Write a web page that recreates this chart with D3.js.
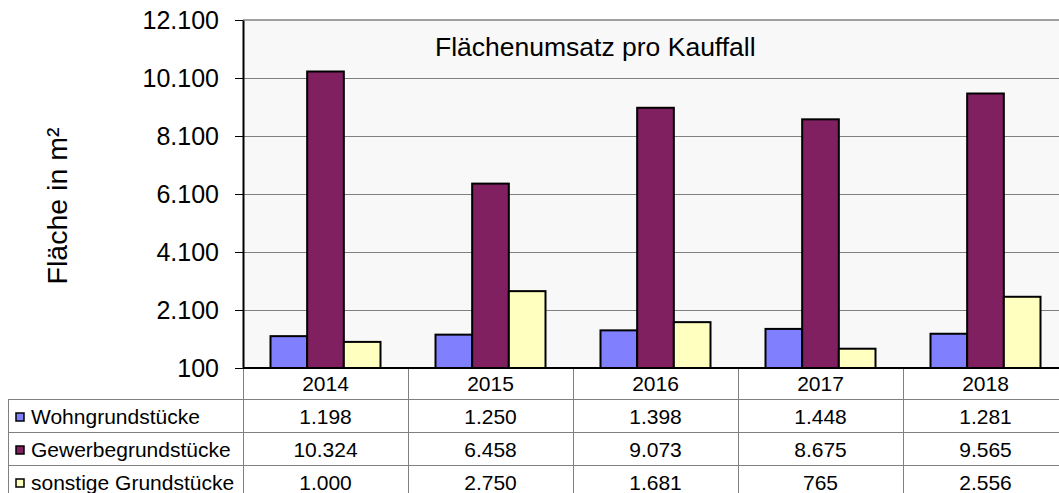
<!DOCTYPE html>
<html>
<head>
<meta charset="utf-8">
<script src="https://cdn.jsdelivr.net/npm/d3@7"></script>
<style>
    body { margin: 0; background: #fff; }
    svg { display: block; font-family: "Liberation Sans", Arial, sans-serif; }
    .grid line { stroke: #808080; stroke-width: 1; }
    .tbl line { stroke: #808080; stroke-width: 1; }
    .bar { stroke: #000; stroke-width: 2; }
</style>
</head>
<body>
<svg id="chart"></svg>
<script>
var years = ["2014", "2015", "2016", "2017", "2018"];
var seriesNames = ["Wohngrundstücke", "Gewerbegrundstücke", "sonstige Grundstücke"];
var wohn = [1198, 1250, 1398, 1448, 1281];
var gewerbe = [10324, 6458, 9073, 8675, 9565];
var sonstige = [1000, 2750, 1681, 765, 2556];
var yTicks = [100, 2100, 4100, 6100, 8100, 10100, 12100];
var colors = ["#8080ff", "#802060", "#ffffc0"];

var w = 1059,
    h = 493;

var margin = { top: 20, left: 243 },
    plotBottom = 368,
    rowH = 33;

var FMT = d3.formatLocale({ decimal: ",", thousands: ".", grouping: [3], currency: ["", "€"] }).format(",d");

var seriesValues = [wohn, gewerbe, sonstige];

var x = d3.scaleBand()
    .domain(years)
    .range([margin.left, margin.left + 165 * years.length]);

var x1 = d3.scaleBand()
    .domain([0, 1, 2])
    .range([27.5, 137.5]);

var y = d3.scaleLinear()
    .domain([100, 12100])
    .range([plotBottom, margin.top]);

var svg = d3.select("#chart")
    .attr("width", w)
    .attr("height", h);

// plot background
svg.append("rect")
    .attr("x", margin.left)
    .attr("y", margin.top)
    .attr("width", w - margin.left)
    .attr("height", plotBottom - margin.top)
    .attr("fill", "#f8f8f8");

// gridlines
svg.append("g")
    .attr("class", "grid")
    .selectAll("line")
    .data(yTicks.slice(1, -1))
    .enter()
    .append("line")
    .attr("x1", margin.left)
    .attr("x2", w)
    .attr("y1", function(d) { return y(d) + 0.5; })
    .attr("y2", function(d) { return y(d) + 0.5; });

svg.append("line")
    .attr("x1", margin.left)
    .attr("x2", w)
    .attr("y1", y(12100))
    .attr("y2", y(12100))
    .attr("stroke", "#a0a0a0")
    .attr("stroke-width", 2);

// y axis
var yAxis = svg.append("g")
    .attr("transform", "translate(" + margin.left + ",0)")
    .call(d3.axisLeft(y).tickValues(yTicks).tickFormat(FMT).tickSize(8).tickPadding(16).tickSizeOuter(0));

yAxis.select(".domain").attr("stroke", "#000").attr("stroke-width", 2);
yAxis.selectAll(".tick line").attr("stroke", "#000");
yAxis.selectAll(".tick text")
    .attr("font-size", 25)
    .attr("font-family", "Liberation Sans, Arial, sans-serif")
    .attr("fill", "#000");

svg.append("text")
    .attr("transform", "translate(67,206) rotate(-90)")
    .attr("text-anchor", "middle")
    .attr("font-size", 28.5)
    .text("Fläche in m²");

svg.append("text")
    .attr("x", 435)
    .attr("y", 56)
    .attr("font-size", 26.5)
    .text("Flächenumsatz pro Kauffall");

// bars
var groups = svg.selectAll(".year")
    .data(years)
    .enter()
    .append("g")
    .attr("class", "year")
    .attr("transform", function(d) { return "translate(" + x(d) + ",0)"; });

groups.selectAll("rect")
    .data(function(d, i) { return seriesValues.map(function(s, j) { return { s: j, v: s[i] }; }); })
    .enter()
    .append("rect")
    .attr("class", "bar")
    .attr("x", function(d) { return x1(d.s); })
    .attr("y", function(d) { return y(d.v); })
    .attr("width", x1.bandwidth())
    .attr("height", function(d) { return y(100) - y(d.v); })
    .attr("fill", function(d) { return colors[d.s]; });

// data table
var tbl = svg.append("g").attr("class", "tbl");

[1, 2, 3].forEach(function(r) {
    tbl.append("line")
        .attr("x1", 8).attr("x2", w)
        .attr("y1", plotBottom + r * rowH - 1.5).attr("y2", plotBottom + r * rowH - 1.5);
});

tbl.append("line")
    .attr("x1", 8.5).attr("x2", 8.5)
    .attr("y1", plotBottom + rowH - 1.5).attr("y2", h);

tbl.selectAll(".vline")
    .data(years)
    .enter()
    .append("line")
    .attr("class", "vline")
    .attr("x1", function(d) { return x(d) + 0.5; })
    .attr("x2", function(d) { return x(d) + 0.5; })
    .attr("y1", plotBottom)
    .attr("y2", h);

svg.append("line")
    .attr("x1", margin.left)
    .attr("x2", w)
    .attr("y1", plotBottom)
    .attr("y2", plotBottom)
    .attr("stroke", "#000")
    .attr("stroke-width", 2);

svg.selectAll(".yearlabel")
    .data(years)
    .enter()
    .append("text")
    .attr("class", "yearlabel")
    .attr("x", function(d) { return x(d) + x.bandwidth() / 2; })
    .attr("y", 391)
    .attr("text-anchor", "middle")
    .attr("font-size", 21)
    .text(function(d) { return d; });

seriesNames.forEach(function(name, j) {
    var rowY = plotBottom + (j + 1) * rowH;

    svg.append("rect")
        .attr("x", 16)
        .attr("y", rowY + 12)
        .attr("width", 8)
        .attr("height", 8)
        .attr("fill", colors[j])
        .attr("stroke", "#000")
        .attr("stroke-width", 1.5);

    svg.append("text")
        .attr("x", 31)
        .attr("y", rowY + 23)
        .attr("font-size", 21)
        .text(name);

    svg.selectAll(".val" + j)
        .data(seriesValues[j])
        .enter()
        .append("text")
        .attr("class", "val" + j)
        .attr("x", function(d, i) { return x(years[i]) + x.bandwidth() / 2; })
        .attr("y", rowY + 23)
        .attr("text-anchor", "middle")
        .attr("font-size", 21)
        .text(function(d) { return FMT(d); });
});
</script>
</body>
</html>
